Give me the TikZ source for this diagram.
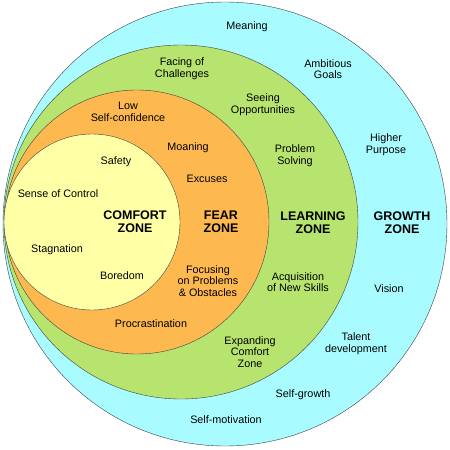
\documentclass[tikz,border=0pt]{standalone}
\usepackage{fontspec}
\setmainfont{Liberation Sans}
\definecolor{growthcol}{RGB}{168,252,255}
\definecolor{learncol}{RGB}{183,228,110}
\definecolor{fearcol}{RGB}{253,184,80}
\definecolor{comfortcol}{RGB}{255,255,166}
\begin{document}
\begin{tikzpicture}[x=1pt,y=-1pt,
        zone/.style={draw=black!75,thin},
        lbl/.style={align=center,font=\fontsize{10.8}{11.7}\selectfont},
        ttl/.style={align=center,font=\fontsize{12.5}{13.3}\selectfont\bfseries}]
        \useasboundingbox (0,0) rectangle (450,450);
        \draw[zone,fill=growthcol] (225,224) circle (222pt); %growth zone
        \draw[zone,fill=learncol] (181,222) circle (177pt); %learning zone
        \draw[zone,fill=fearcol] (137,222) circle (132pt); %fear zone
        \draw[zone,fill=comfortcol] (92,222) circle (88pt); %comfort zone
        % zone titles
        \node[ttl] (comfort) at (135,222) {COMFORT\\ZONE};
        \node[ttl] (fear) at (221,222) {FEAR\\ZONE};
        \node[ttl] (learning) at (313,223) {LEARNING\\ZONE};
        \node[ttl] (growth) at (402,223) {GROWTH\\ZONE};
        % comfort zone
        \node[lbl] (safety) at (116,162) {Safety};
        \node[lbl] (control) at (58,194) {Sense of Control};
        \node[lbl] (stagnation) at (57,250) {Stagnation};
        \node[lbl] (boredom) at (122,276) {Boredom};
        % fear zone
        \node[lbl] (lowconf) at (128,112) {Low\\Self-confidence};
        \node[lbl] (moaning) at (188,148) {Moaning};
        \node[lbl] (excuses) at (207,179) {Excuses};
        \node[lbl] (focusing) at (208,281) {Focusing\\on Problems\\\& Obstacles};
        \node[lbl] (procrast) at (151,324) {Procrastination};
        % learning zone
        \node[lbl] (facing) at (182,69) {Facing of\\Challenges};
        \node[lbl] (seeing) at (263,105) {Seeing\\Opportunities};
        \node[lbl] (problem) at (295,156) {Problem\\Solving};
        \node[lbl] (skills) at (298,282) {Acquisition\\of New Skills};
        \node[lbl] (expanding) at (250,352) {Expanding\\Comfort\\Zone};
        % growth zone
        \node[lbl] (meaning) at (247,27) {Meaning};
        \node[lbl] (goals) at (328,69) {Ambitious\\Goals};
        \node[lbl] (purpose) at (386,145) {Higher\\Purpose};
        \node[lbl] (vision) at (389,289) {Vision};
        \node[lbl] (talent) at (356,344) {Talent\\development};
        \node[lbl] (selfgrowth) at (303,395) {Self-growth};
        \node[lbl] (motivation) at (226,420) {Self-motivation};
    \end{tikzpicture}
\end{document}
